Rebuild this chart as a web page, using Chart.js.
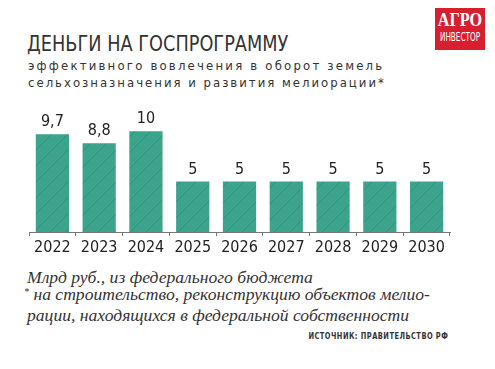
<!DOCTYPE html>
<html>
<head>
<meta charset="utf-8">
<script src="https://cdn.jsdelivr.net/npm/chart.js@4.4.1/dist/chart.umd.min.js"></script>
<style>
  body { margin: 0; background: #fff; width: 495px; height: 369px; overflow: hidden; position: relative; }
  .title { position: absolute; left: 27px; top: 31px; font-family: "DejaVu Sans Condensed", sans-serif; font-size: 22px; color: #333; transform: scaleX(0.895); transform-origin: left; }
  .sub { position: absolute; left: 28px; font-family: "DejaVu Sans Condensed", sans-serif; font-size: 13px; color: #333; letter-spacing: 2.2px; }
  .logo { position: absolute; left: 435px; top: 8px; width: 50px; height: 42px; background: #d7202f; color: #fff; text-align: center; overflow: hidden; }
  .logo .a { font-family: "Liberation Serif", serif; font-weight: bold; font-size: 18px; line-height: 18px; margin-top: 3px; transform: scaleX(0.9); }
  .logo .b { font-family: "DejaVu Sans Condensed", sans-serif; font-size: 13px; line-height: 16px; transform: scaleX(0.62); white-space: nowrap; margin-left: -20px; margin-right: -20px; }
  .note { position: absolute; left: 27px; font-family: "Liberation Serif", serif; font-style: italic; font-size: 17.6px; color: #333; white-space: nowrap; }
  .src { position: absolute; right: 47px; top: 330px; font-family: "DejaVu Sans Condensed", sans-serif; font-weight: bold; font-size: 9.5px; color: #333; letter-spacing: 0.6px; transform: scaleX(0.78); transform-origin: right; white-space: nowrap; }
  #wrap { position: absolute; left: 0; top: 106px; width: 495px; height: 156px; }
</style>
</head>
<body>
  <div class="title">ДЕНЬГИ НА ГОСПРОГРАММУ</div>
  <div class="sub" style="top: 58px;">эффективного вовлечения в оборот земель</div>
  <div class="sub" style="top: 75px; letter-spacing: 2px;">сельхозназначения и развития мелиорации*</div>
  <div class="logo"><div class="a">АГРО</div><div class="b">ИНВЕСТОР</div></div>
  <div id="wrap"><canvas id="chart"></canvas></div>
  <div class="note" style="top: 267px;">Млрд руб., из федерального бюджета</div>
  <div class="note" style="top: 284px; left: 24px;"><span style="font-size: 10px; vertical-align: 5px;">*</span> на строительство, реконструкцию объектов мелио-</div>
  <div class="note" style="top: 305px;">рации, находящихся в федеральной собственности</div>
  <div class="src">ИСТОЧНИК: ПРАВИТЕЛЬСТВО РФ</div>

<script>
  // data
  const years = ['2022', '2023', '2024', '2025', '2026', '2027', '2028', '2029', '2030'];
  const amounts = [9.7, 8.8, 10, 5, 5, 5, 5, 5, 5];
  const valueLabels = ['9,7', '8,8', '10', '5', '5', '5', '5', '5', '5'];

  // hatched teal fill
  function makeHatch() {
    const c = document.createElement('canvas');
    c.width = 16; c.height = 16;
    const g = c.getContext('2d');
    g.fillStyle = '#3ca38c';
    g.fillRect(0, 0, 16, 16);
    g.strokeStyle = 'rgba(30, 115, 96, 0.4)';
    g.lineWidth = 1;
    g.beginPath();
    g.moveTo(0, 16); g.lineTo(16, 0);
    g.moveTo(-8, 8); g.lineTo(8, -8);
    g.moveTo(8, 24); g.lineTo(24, 8);
    g.stroke();
    return g.createPattern(c, 'repeat');
  }

  // draws numbers above each bar
  const topLabels = {
    id: 'topLabels',
    afterDatasetsDraw(chart) {
      const ctx = chart.ctx;
      const meta = chart.getDatasetMeta(0);
      ctx.save();
      ctx.font = '16px "DejaVu Sans Condensed", sans-serif';
      ctx.fillStyle = '#222';
      ctx.textAlign = 'center';
      ctx.textBaseline = 'bottom';
      meta.data.forEach((bar, i) => {
        ctx.fillText(valueLabels[i], bar.x, bar.y - 4);
      });
      ctx.restore();
    }
  };

  new Chart(document.getElementById('chart'), {
    type: 'bar',
    data: {
      labels: years,
      datasets: [{
        data: amounts,
        backgroundColor: makeHatch(),
        borderWidth: 0,
        barPercentage: 0.71,
        categoryPercentage: 1
      }]
    },
    options: {
      responsive: true,
      maintainAspectRatio: false,
      animation: false,
      layout: { padding: { left: 29, right: 45, top: 0, bottom: 0 } },
      plugins: { legend: { display: false }, tooltip: { enabled: false } },
      scales: {
        x: {
          afterFit: s => { s.height = 30; },
          grid: { offset: true, drawOnChartArea: false, tickLength: 4, color: '#777' },
          border: { color: '#777', width: 1 },
          ticks: { color: '#222', padding: 2, font: { family: '"DejaVu Sans Condensed", sans-serif', size: 16 } }
        },
        y: { display: false, min: 0, max: 12.5 }
      }
    },
    plugins: [topLabels]
  });
</script>
</body>
</html>
